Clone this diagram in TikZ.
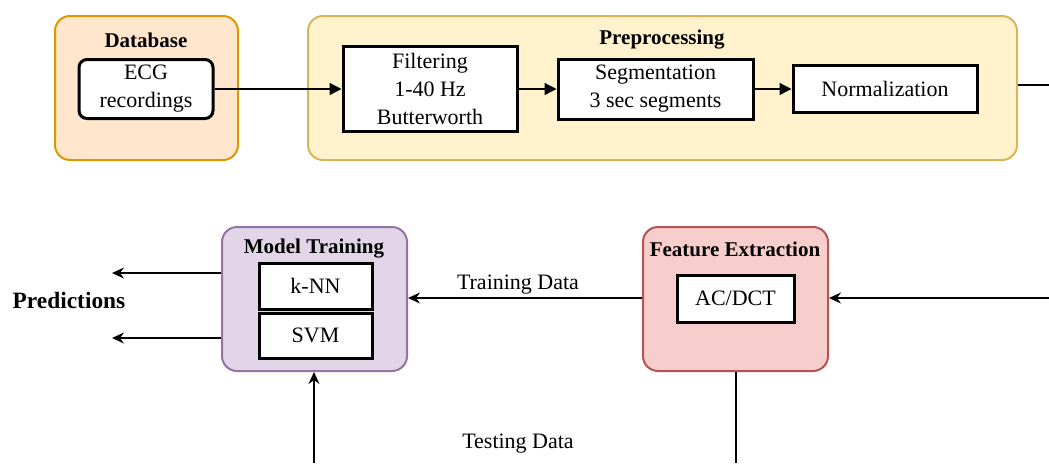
\documentclass[tikz,border=0pt]{standalone}
\usepackage{fontspec}
\setmainfont{Liberation Serif}
\usetikzlibrary{arrows.meta,positioning}
\definecolor{dbfill}{HTML}{FFE6CC}
\definecolor{dbline}{HTML}{D79B00}
\definecolor{ppfill}{HTML}{FFF2CC}
\definecolor{ppline}{HTML}{D6B656}
\definecolor{mtfill}{HTML}{E1D5E7}
\definecolor{mtline}{HTML}{9673A6}
\definecolor{fefill}{HTML}{F8CECC}
\definecolor{feline}{HTML}{B85450}
\tikzset{
  stage/.style={draw, line width=1pt, rounded corners=7.5pt, inner sep=0pt,
    minimum width=92.5pt, minimum height=72pt},
  proc/.style={draw, line width=1.5pt, fill=white, align=center, inner sep=0pt,
    font=\fontsize{11}{14}\selectfont},
  title/.style={font=\fontsize{10.5}{12}\selectfont\bfseries, inner sep=0pt},
  lbl/.style={font=\fontsize{11}{14}\selectfont, inner sep=0pt},
  flow/.style={-{Triangle[length=6pt,width=6pt]}, line width=0.65pt},
  back/.style={-{Stealth[length=6pt,width=5.5pt,inset=2pt]}, line width=0.65pt},
}
\begin{document}
\begin{tikzpicture}[x=0.5pt,y=-0.5pt]
    \clip (0,0) rectangle (1049,463);
    % 上排：数据库与预处理
    \node[stage, fill=dbfill, draw=dbline, minimum width=91.5pt] (db) at (146.5,88) {};
    \node[stage, fill=ppfill, draw=ppline, minimum width=354.5pt] (prep) at (662.5,88) {};
    \node[title] at (146,40) {Database};
    \node[title] at (662,40) {Preprocessing};
    \node[proc, rounded corners=4pt, minimum width=67pt, minimum height=29.5pt] (ecg) at (146,89) {ECG\\recordings};
    \node[proc, minimum width=87pt, minimum height=42.5pt] (filt) at (430,89) {Filtering\\1-40 Hz\\Butterworth};
    \node[proc, minimum width=97.5pt, minimum height=30pt] (seg) at (655.5,89) {Segmentation\\3 sec segments};
    \node[proc, minimum width=92pt, minimum height=23.5pt] (norm) at (885,89) {Normalization};
    % 下排：模型训练与特征提取
    \node[stage, fill=mtfill, draw=mtline] (model) at (314.5,299) {};
    \node[stage, fill=fefill, draw=feline] (fe) at (735.5,299) {};
    \node[title] at (314,249) {Model Training};
    \node[title] at (735,249) {Feature Extraction};
    \node[proc, minimum width=56.5pt, minimum height=23pt] (knn) at (315.5,286) {k-NN};
    \node[proc, minimum width=56.5pt, minimum height=22.5pt] (svm) at (315.5,335.5) {SVM};
    \node[proc, minimum width=58.5pt, minimum height=23.5pt] (feat) at (735.5,298.5) {AC/DCT};
    \node[font=\fontsize{11.7}{14}\selectfont\bfseries, inner sep=0pt] (pred) at (69,300) {Predictions};
    \node[lbl] (train) at (518,285) {Training Data};
    \node[lbl] (test) at (518,444) {Testing Data};
    % 画面外的端点
    \coordinate (ppout) at (1049,85);
    \coordinate (fein) at (1049,298);
    \coordinate (feout) at (736,463);
    \coordinate (mtin) at (314,463);
    \coordinate (predA) at (112,273);
    \coordinate (predB) at (112,338);
    % 箭头
    \draw[flow] (ecg.east) -- (filt.west);
    \draw[flow] (filt.east) -- (seg.west);
    \draw[flow] (seg.east) -- (norm.west);
    \draw[line width=0.65pt] (prep.east |- ppout) -- (ppout);
    \draw[back] (fein) -- (fe.east |- fein);
    \draw[back] (fe.west |- fein) -- (model.east |- fein);
    \draw[line width=0.65pt] (fe.south -| feout) -- (feout);
    \draw[back] (mtin) -- (model.south -| mtin);
    \draw[back] (model.west |- predA) -- (predA);
    \draw[back] (model.west |- predB) -- (predB);
\end{tikzpicture}
\end{document}
